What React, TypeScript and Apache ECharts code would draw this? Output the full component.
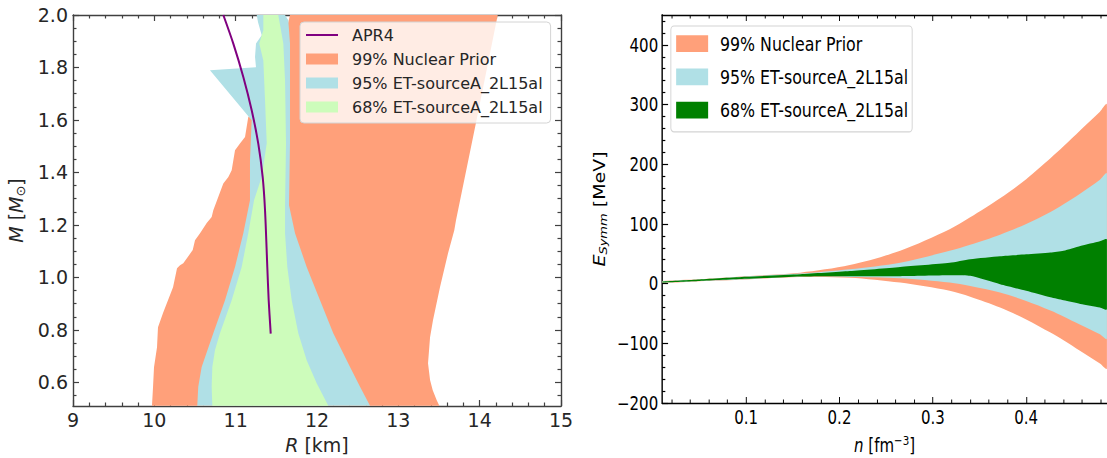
import React, { useEffect, useRef } from 'react';
import * as echarts from 'echarts';

// ---------------- Left panel: M–R bands ----------------
const rTicks = [9, 10, 11, 12, 13, 14, 15];
const mTicks = [0.6, 0.8, 1.0, 1.2, 1.4, 1.6, 1.8, 2.0];

// 99% Nuclear Prior: left edge (bottom -> top), right edge (top -> bottom)
const priorLeftM = [0.511, 0.582, 0.658, 0.734, 0.81, 0.864, 0.963, 1.035, 1.046, 1.054, 1.104, 1.142, 1.168, 1.207, 1.23, 1.256, 1.307, 1.358, 1.383, 1.408, 1.485, 1.51, 1.535, 1.611, 1.656, 1.827, 1.923, 2.0];
const priorLeftR = [9.971, 9.984, 9.996, 10.033, 10.045, 10.107, 10.23, 10.279, 10.316, 10.356, 10.472, 10.5, 10.562, 10.644, 10.705, 10.725, 10.787, 10.848, 10.91, 10.951, 10.992, 11.053, 11.115, 11.155, 11.324, 11.422, 11.607, 11.668];
const priorRightM = [2.0, 1.599, 1.218, 1.18, 1.092, 0.963, 0.837, 0.772, 0.673, 0.609, 0.57, 0.532, 0.511];
const priorRightR = [14.222, 13.961, 13.709, 13.688, 13.611, 13.512, 13.426, 13.39, 13.365, 13.39, 13.423, 13.472, 13.504];

// 95% ET-sourceA_2L15al
const c95LeftM = [0.511, 0.583, 0.659, 0.787, 0.913, 1.04, 1.168, 1.294, 1.446, 1.599, 1.789, 1.801, 1.84, 1.891, 1.923, 1.972, 2.0];
const c95LeftR = [10.528, 10.54, 10.582, 10.725, 10.869, 10.992, 11.094, 11.176, 11.176, 11.197, 10.684, 11.25, 11.238, 11.25, 11.32, 11.275, 11.259];
const c95RightM = [2.0, 1.98, 1.891, 1.511, 1.275, 1.168, 1.04, 0.913, 0.787, 0.659, 0.583, 0.511];
const c95RightR = [11.607, 11.647, 11.668, 11.668, 11.656, 11.73, 11.873, 12.037, 12.2, 12.406, 12.529, 12.652];

// 68% ET-sourceA_2L15al
const c68LeftM = [0.511, 0.583, 0.659, 0.723, 0.787, 0.913, 1.04, 1.168, 1.294, 1.383, 1.511, 1.675, 1.827, 1.891, 1.942, 2.0];
const c68LeftR = [10.713, 10.705, 10.713, 10.746, 10.807, 10.951, 11.074, 11.155, 11.226, 11.32, 11.382, 11.361, 11.34, 11.29, 11.34, 11.34];
const c68RightM = [2.0, 1.891, 1.751, 1.511, 1.275, 1.168, 1.04, 0.913, 0.787, 0.684, 0.597, 0.511];
const c68RightR = [11.524, 11.586, 11.607, 11.619, 11.607, 11.607, 11.635, 11.689, 11.77, 11.873, 11.996, 12.139];

// APR4 curve
const apr4M = [2.0, 1.891, 1.764, 1.637, 1.51, 1.383, 1.256, 1.04, 0.913, 0.786];
const apr4R = [10.848, 10.971, 11.094, 11.197, 11.278, 11.332, 11.361, 11.389, 11.406, 11.431];

// ---------------- Right panel: E_symm(n) bands ----------------
const nTicks = [0.1, 0.2, 0.3, 0.4];
const eTicks = [-200, -100, 0, 100, 200, 300, 400];
const nGrid = [0.01, 0.05, 0.1, 0.158, 0.211, 0.265, 0.318, 0.34, 0.372, 0.4, 0.426, 0.44, 0.458, 0.479, 0.4865];
const priorHi = [4.5, 7.5, 12.5, 18.4, 31, 55, 91, 111, 143, 175, 210, 230, 257, 288, 300];
const priorLo = [1.5, 4, 7, 11, 10, 1.7, -12, -22, -40, -60, -82, -95, -113, -134, -142];
const e95Hi = [4, 7, 12, 16.8, 24, 35, 55, 65, 82, 100, 120, 133, 151, 174, 184];
const e95Lo = [2, 4.5, 7.5, 12, 11, 9, 1.7, -4, -15, -29, -45, -55, -69, -85, -92];
const e68Hi = [3.5, 7, 11.5, 15.7, 21, 28, 35, 41, 46, 49, 52, 55, 63, 71, 74];
const e68Lo = [2, 4.5, 8, 12, 12.5, 12.5, 14, 13, -1, -12, -23, -28, -34, -40, -43];

const NAMES = ['APR4', '99% Nuclear Prior', '95% ET-sourceA_2L15al', '68% ET-sourceA_2L15al'];
const SALMON = '#ffa07a';
const POWDER = '#b0e0e6';
const PALEGREEN = '#cdfcbb';
const GREEN = '#008000';
const PURPLE = '#800080';

const FONT = "'DejaVu Sans', sans-serif";
const SQUEEZE = 0.79;

function minors(from: number, to: number, step: number, majors: number[]): number[] {
  const out: number[] = [];
  const n = Math.round((to - from) / step);
  for (let k = 0; k <= n; k++) {
    const v = Math.round((from + k * step) * 10000) / 10000;
    if (!majors.some((m) => Math.abs(m - v) < 1e-6)) out.push(v);
  }
  return out;
}

function bandPoints(lx: number[], ly: number[], rx: number[], ry: number[]): number[][] {
  const pts: number[][] = [];
  lx.forEach((x, i) => pts.push([x, ly[i]]));
  rx.forEach((x, i) => pts.push([x, ry[i]]));
  return pts;
}

function polygonSeries(name: string, color: string, pts: number[][], smooth: number) {
  return {
    type: 'custom',
    name,
    coordinateSystem: 'cartesian2d',
    xAxisIndex: 0,
    yAxisIndex: 0,
    data: pts,
    encode: { x: 0, y: 1 },
    clip: true,
    silent: true,
    itemStyle: { color },
    renderItem: (params: any, api: any) => {
      if (params.dataIndex !== 0) return null;
      const points = pts.map((p) => api.coord(p));
      return { type: 'polygon', shape: { points, smooth }, style: { fill: color } };
    },
  };
}

function axisSet(opts: {
  grid: number;
  min: number;
  max: number;
  position: string;
  ticks: number[];
  tickLen: number;
  color: string;
  lineWidth: number;
  showLine: boolean;
  label?: any;
  name?: any;
}) {
  const a: any = {
    type: 'value',
    gridIndex: opts.grid,
    min: opts.min,
    max: opts.max,
    position: opts.position,
    axisLine: { show: opts.showLine, onZero: false, lineStyle: { color: opts.color, width: opts.lineWidth } },
    axisTick: {
      show: true,
      inside: true,
      length: opts.tickLen,
      customValues: opts.ticks,
      lineStyle: { color: opts.color, width: 1.2 },
    },
    axisLabel: opts.label ? opts.label : { show: false },
    splitLine: { show: false },
    minorTick: { show: false },
  };
  if (opts.name) Object.assign(a, opts.name);
  return a;
}

function buildLeft() {
  const AX = '#404040';
  const TXT = '#262626';
  const rMinor = minors(9, 15, 0.2, rTicks);
  const mMinor = minors(0.55, 1.95, 0.05, mTicks);
  const rich = {
    i: { fontStyle: 'italic', fontSize: 19, fontFamily: FONT, color: TXT, lineHeight: 22 },
    sub: { fontSize: 13, fontFamily: FONT, color: TXT, lineHeight: 13, verticalAlign: 'bottom' },
  };
  const nameStyle = { fontSize: 19, fontFamily: FONT, color: TXT, lineHeight: 22, rich };
  const grid = { left: 73, top: 15, width: 488, height: 391, outerBoundsMode: 'none', containLabel: false };
  const xr = { min: 9, max: 15 };
  const yr = { min: 0.51, max: 2.0 };
  return {
    animation: false,
    backgroundColor: '#ffffff',
    grid: [grid, { ...grid }],
    xAxis: [
      axisSet({
        grid: 0, ...xr, position: 'bottom', ticks: rTicks, tickLen: 6, color: AX, lineWidth: 1.4, showLine: true,
        label: { show: true, customValues: rTicks, margin: 4, fontSize: 19, fontFamily: FONT, color: TXT, formatter: (v: number) => String(v) },
        name: { name: '{i|R} [km]', nameLocation: 'middle', nameGap: 28, nameTextStyle: nameStyle },
      }),
      axisSet({ grid: 0, ...xr, position: 'top', ticks: rTicks, tickLen: 6, color: AX, lineWidth: 1.4, showLine: true }),
      axisSet({ grid: 1, ...xr, position: 'bottom', ticks: rMinor, tickLen: 3.5, color: AX, lineWidth: 1, showLine: false }),
      axisSet({ grid: 1, ...xr, position: 'top', ticks: rMinor, tickLen: 3.5, color: AX, lineWidth: 1, showLine: false }),
    ],
    yAxis: [
      axisSet({
        grid: 0, ...yr, position: 'left', ticks: mTicks, tickLen: 6, color: AX, lineWidth: 1.4, showLine: true,
        label: { show: true, customValues: mTicks, margin: 5, fontSize: 19, fontFamily: FONT, color: TXT, formatter: (v: number) => v.toFixed(1) },
        name: { name: '{i|M} [{i|M}{sub|⊙}]', nameLocation: 'middle', nameRotate: 90, nameGap: 43, nameTextStyle: nameStyle },
      }),
      axisSet({ grid: 0, ...yr, position: 'right', ticks: mTicks, tickLen: 6, color: AX, lineWidth: 1.4, showLine: true }),
      axisSet({ grid: 1, ...yr, position: 'left', ticks: mMinor, tickLen: 3.5, color: AX, lineWidth: 1, showLine: false }),
      axisSet({ grid: 1, ...yr, position: 'right', ticks: mMinor, tickLen: 3.5, color: AX, lineWidth: 1, showLine: false }),
    ],
    legend: {
      orient: 'vertical',
      left: 300,
      top: 22,
      data: [
        { name: NAMES[0], icon: 'path://M0,0H32V2H0Z' },
        { name: NAMES[1], icon: 'rect' },
        { name: NAMES[2], icon: 'rect' },
        { name: NAMES[3], icon: 'rect' },
      ],
      itemWidth: 32,
      itemHeight: 11,
      itemGap: 8,
      padding: [5, 8, 8, 6],
      backgroundColor: 'rgba(255,255,255,0.8)',
      borderColor: '#d4d4d4',
      borderWidth: 1,
      borderRadius: 4,
      selectedMode: false,
      textStyle: { fontSize: 16, fontFamily: FONT, color: TXT, padding: [0, 0, 0, 9] },
    },
    series: [
      polygonSeries(NAMES[1], SALMON, bandPoints(priorLeftR, priorLeftM, priorRightR, priorRightM), 0),
      polygonSeries(NAMES[2], POWDER, bandPoints(c95LeftR, c95LeftM, c95RightR, c95RightM), 0),
      polygonSeries(NAMES[3], PALEGREEN, bandPoints(c68LeftR, c68LeftM, c68RightR, c68RightM), 0),
      {
        type: 'line',
        name: NAMES[0],
        xAxisIndex: 0,
        yAxisIndex: 0,
        data: apr4R.map((r, i) => [r, apr4M[i]]),
        smooth: 0.3,
        showSymbol: false,
        symbol: 'none',
        clip: true,
        z: 5,
        lineStyle: { color: PURPLE, width: 2 },
        itemStyle: { color: PURPLE },
      },
    ],
  };
}

function buildRight() {
  const AX = '#000000';
  const TXT = '#000000';
  const nMinor = minors(0.02, 0.48, 0.02, nTicks);
  const eMinor = minors(-180, 440, 20, eTicks);
  const rich = {
    i: { fontStyle: 'italic', fontSize: 19, fontFamily: FONT, color: TXT, lineHeight: 22 },
    sub: { fontStyle: 'italic', fontSize: 13, fontFamily: FONT, color: TXT, lineHeight: 13, verticalAlign: 'bottom' },
    sup: { fontSize: 13, fontFamily: FONT, color: TXT, lineHeight: 13, verticalAlign: 'top' },
  };
  const nameStyle = { fontSize: 19, fontFamily: FONT, color: TXT, lineHeight: 22, rich };
  const grid = { left: 104, top: 15, width: 563, height: 388, outerBoundsMode: 'none', containLabel: false };
  const xr = { min: 0.01, max: 0.4865 };
  const yr = { min: -200, max: 450 };
  const band = (hi: number[], lo: number[]) => {
    const pts: number[][] = [];
    nGrid.forEach((n, i) => pts.push([n, hi[i]]));
    for (let i = nGrid.length - 1; i >= 0; i--) pts.push([nGrid[i], lo[i]]);
    return pts;
  };
  return {
    animation: false,
    backgroundColor: '#ffffff',
    grid: [grid, { ...grid }],
    xAxis: [
      axisSet({
        grid: 0, ...xr, position: 'bottom', ticks: nTicks, tickLen: 6, color: AX, lineWidth: 1.4, showLine: true,
        label: { show: true, customValues: nTicks, margin: 5, fontSize: 19, fontFamily: FONT, color: TXT, formatter: (v: number) => v.toFixed(1) },
        name: { name: '{i|n} [fm{sup|−3}]', nameLocation: 'middle', nameGap: 31, nameTextStyle: nameStyle },
      }),
      axisSet({ grid: 0, ...xr, position: 'top', ticks: nTicks, tickLen: 6, color: AX, lineWidth: 1.4, showLine: true }),
      axisSet({ grid: 1, ...xr, position: 'bottom', ticks: nMinor, tickLen: 3.5, color: AX, lineWidth: 1, showLine: false }),
      axisSet({ grid: 1, ...xr, position: 'top', ticks: nMinor, tickLen: 3.5, color: AX, lineWidth: 1, showLine: false }),
    ],
    yAxis: [
      axisSet({
        grid: 0, ...yr, position: 'left', ticks: eTicks, tickLen: 7.5, color: AX, lineWidth: 1.8, showLine: true,
        label: { show: true, customValues: eTicks, margin: 5, fontSize: 19, fontFamily: FONT, color: TXT, formatter: (v: number) => String(v).replace('-', '\u2212') },
        name: { name: '{i|E}{sub|Symm} [MeV]', nameLocation: 'middle', nameRotate: 90, nameGap: 60, nameTextStyle: nameStyle },
      }),
      axisSet({ grid: 1, ...yr, position: 'left', ticks: eMinor, tickLen: 4, color: AX, lineWidth: 1, showLine: false }),
    ],
    legend: {
      orient: 'vertical',
      left: 115,
      top: 26,
      data: [
        { name: NAMES[1], icon: 'rect' },
        { name: NAMES[2], icon: 'rect' },
        { name: NAMES[3], icon: 'rect' },
      ],
      itemWidth: 40.5,
      itemHeight: 16.7,
      itemGap: 13.3,
      padding: [7.6, 5, 11.7, 6.7],
      backgroundColor: 'rgba(255,255,255,0.8)',
      borderColor: '#d4d4d4',
      borderWidth: 1.2,
      borderRadius: 4,
      selectedMode: false,
      textStyle: { fontSize: 20, fontFamily: FONT, color: TXT, padding: [0, 0, 0, 10] },
    },
    series: [
      polygonSeries(NAMES[1], SALMON, band(priorHi, priorLo), 0.3),
      polygonSeries(NAMES[2], POWDER, band(e95Hi, e95Lo), 0.3),
      polygonSeries(NAMES[3], GREEN, band(e68Hi, e68Lo), 0.2),
    ],
  };
}

export default function App() {
  const leftRef = useRef<HTMLDivElement>(null);
  const rightRef = useRef<HTMLDivElement>(null);
  useEffect(() => {
    document.body.style.margin = '0';
    document.body.style.overflow = 'hidden';
    const left = echarts.init(leftRef.current as HTMLDivElement, null, { renderer: 'svg' });
    const right = echarts.init(rightRef.current as HTMLDivElement, null, { renderer: 'svg' });
    left.setOption(buildLeft() as any);
    right.setOption(buildRight() as any);
    return () => {
      left.dispose();
      right.dispose();
    };
  }, []);
  return (
    <div style={{ position: 'fixed', left: 0, top: 0, width: 1107, height: 458, overflow: 'hidden', background: '#fff' }}>
      <div ref={leftRef} style={{ position: 'absolute', left: 0, top: 0, width: 580, height: 458 }} />
      <div
        ref={rightRef}
        style={{
          position: 'absolute',
          left: 580,
          top: 0,
          width: 668,
          height: 458,
          transform: `scaleX(${SQUEEZE})`,
          transformOrigin: '0 0',
        }}
      />
    </div>
  );
}
